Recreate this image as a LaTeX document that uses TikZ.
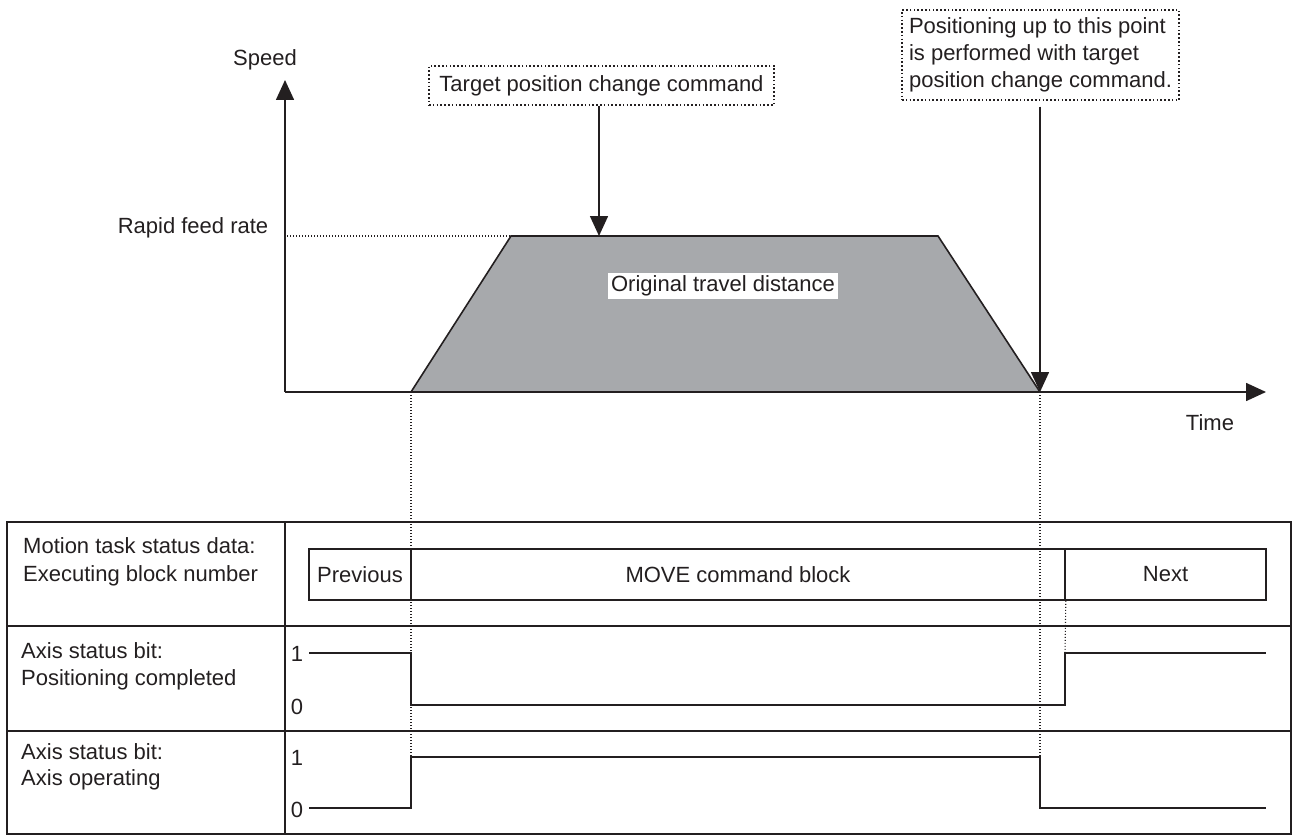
\documentclass[tikz,border=0pt]{standalone}
\usepackage{fontspec}
\setmainfont{Liberation Sans}
\usetikzlibrary{arrows.meta}
\definecolor{areagray}{RGB}{167,169,172}
\definecolor{ink}{RGB}{35,31,32}
\begin{document}
\begin{tikzpicture}[x=1pt,y=-1pt,
  every node/.style={font=\fontsize{22}{27}\selectfont, text=ink},
  line/.style={draw=ink, line width=1.6pt},
  dotline/.style={draw=ink, line width=1.1pt, dash pattern=on 1.1pt off 1.9pt},
  arr/.style={line, -{Triangle[width=18pt,length=20pt]}},
  callout/.style={draw=ink, line width=1.2pt, dash pattern=on 1.6pt off 2.2pt, inner sep=0pt, align=left},
  lbl/.style={inner sep=0pt, anchor=base west},
  ctr/.style={inner sep=0pt, anchor=base},
  blk/.style={draw=ink, line width=1.6pt, minimum height=51pt, inner sep=0pt},
]
\useasboundingbox (0,0) rectangle (1295,840);

% ---------- speed/time graph ----------
\coordinate (O) at (285,392);
\coordinate (ytop) at (285,80);
\coordinate (xend) at (1266,392);
\coordinate (A) at (411,392);
\coordinate (B) at (511,236);
\coordinate (C) at (938,236);
\coordinate (D) at (1040,392);
\coordinate (rf) at (287,236);
\coordinate (tgt) at (599,236);

\filldraw[line, fill=areagray, line join=miter] (A) -- (B) -- (C) -- (D) -- cycle;
\draw[dotline] (rf) -- (B);
\draw[arr] (O) -- (ytop);
\draw[arr] (O) -- (xend);

\node[ctr] (speed) at (265,66) {Speed};
\node[ctr] (rapid) at (193,233) {Rapid feed rate};
\node[ctr] (time) at (1210,430) {Time};
\node[fill=white, inner sep=3pt] (otd) at (723,286) {Original travel distance};

\node[callout, minimum width=345pt, minimum height=39pt] (tpc) at (601.5,85.5) {Target position change command};
\draw[arr] (tpc.south -| tgt) -- (tgt);

\node[callout, minimum width=277pt, minimum height=90pt] (pos) at (1040.5,55)
  {Positioning up to this point\\is performed with target\\position change command.};
\draw[arr] ([yshift=-6pt]pos.south -| D) -- (D);

% ---------- table ----------
\coordinate (T1) at (7,522);
\coordinate (T2) at (1291,834);
\draw[line, line width=1.8pt] (T1) rectangle (T2);
\coordinate (V1) at (285,522);
\coordinate (V2) at (285,834);
\draw[line, line width=1.8pt] (V1) -- (V2);
\coordinate (R1a) at (7,626);
\coordinate (R1b) at (1291,626);
\coordinate (R2a) at (7,731);
\coordinate (R2b) at (1291,731);
\draw[line, line width=1.8pt] (R1a) -- (R1b);
\draw[line, line width=1.8pt] (R2a) -- (R2b);

\node[lbl] (m1) at (23,553) {Motion task status data:};
\node[lbl] (m2) at (23,581) {Executing block number};
\node[lbl] (p1) at (21,658) {Axis status bit:};
\node[lbl] (p2) at (21,685) {Positioning completed};
\node[lbl] (a1) at (21,759) {Axis status bit:};
\node[lbl] (a2) at (21,785) {Axis operating};

\node[ctr] (p1v) at (297,661) {1};
\node[ctr] (p0v) at (297,714) {0};
\node[ctr] (a1v) at (297,765) {1};
\node[ctr] (a0v) at (297,817) {0};

\node[blk, minimum width=102pt] (prev) at (360,574.5) {Previous};
\node[blk, minimum width=654pt] (move) at (738,574.5) {MOVE command block};
\node[blk, minimum width=201pt] (next) at (1165.5,574.5) {Next};

% signals
\coordinate (pa) at (309,653);
\coordinate (pb) at (411,653);
\coordinate (pc) at (411,705);
\coordinate (pd) at (1065,705);
\coordinate (pe) at (1065,653);
\coordinate (pf) at (1266,653);
\draw[line, line join=miter] (pa) -- (pb) -- (pc) -- (pd) -- (pe) -- (pf);

\coordinate (qa) at (309,808);
\coordinate (qb) at (411,808);
\coordinate (qc) at (411,757);
\coordinate (qd) at (1040,757);
\coordinate (qe) at (1040,808);
\coordinate (qf) at (1266,808);
\draw[line, line join=miter] (qa) -- (qb) -- (qc) -- (qd) -- (qe) -- (qf);

% dotted guide lines
\draw[dotline] (A) -- (qc);
\draw[dotline] (D) -- (qd);
\draw[dotline] (move.south east) -- (pe);
\end{tikzpicture}
\end{document}
